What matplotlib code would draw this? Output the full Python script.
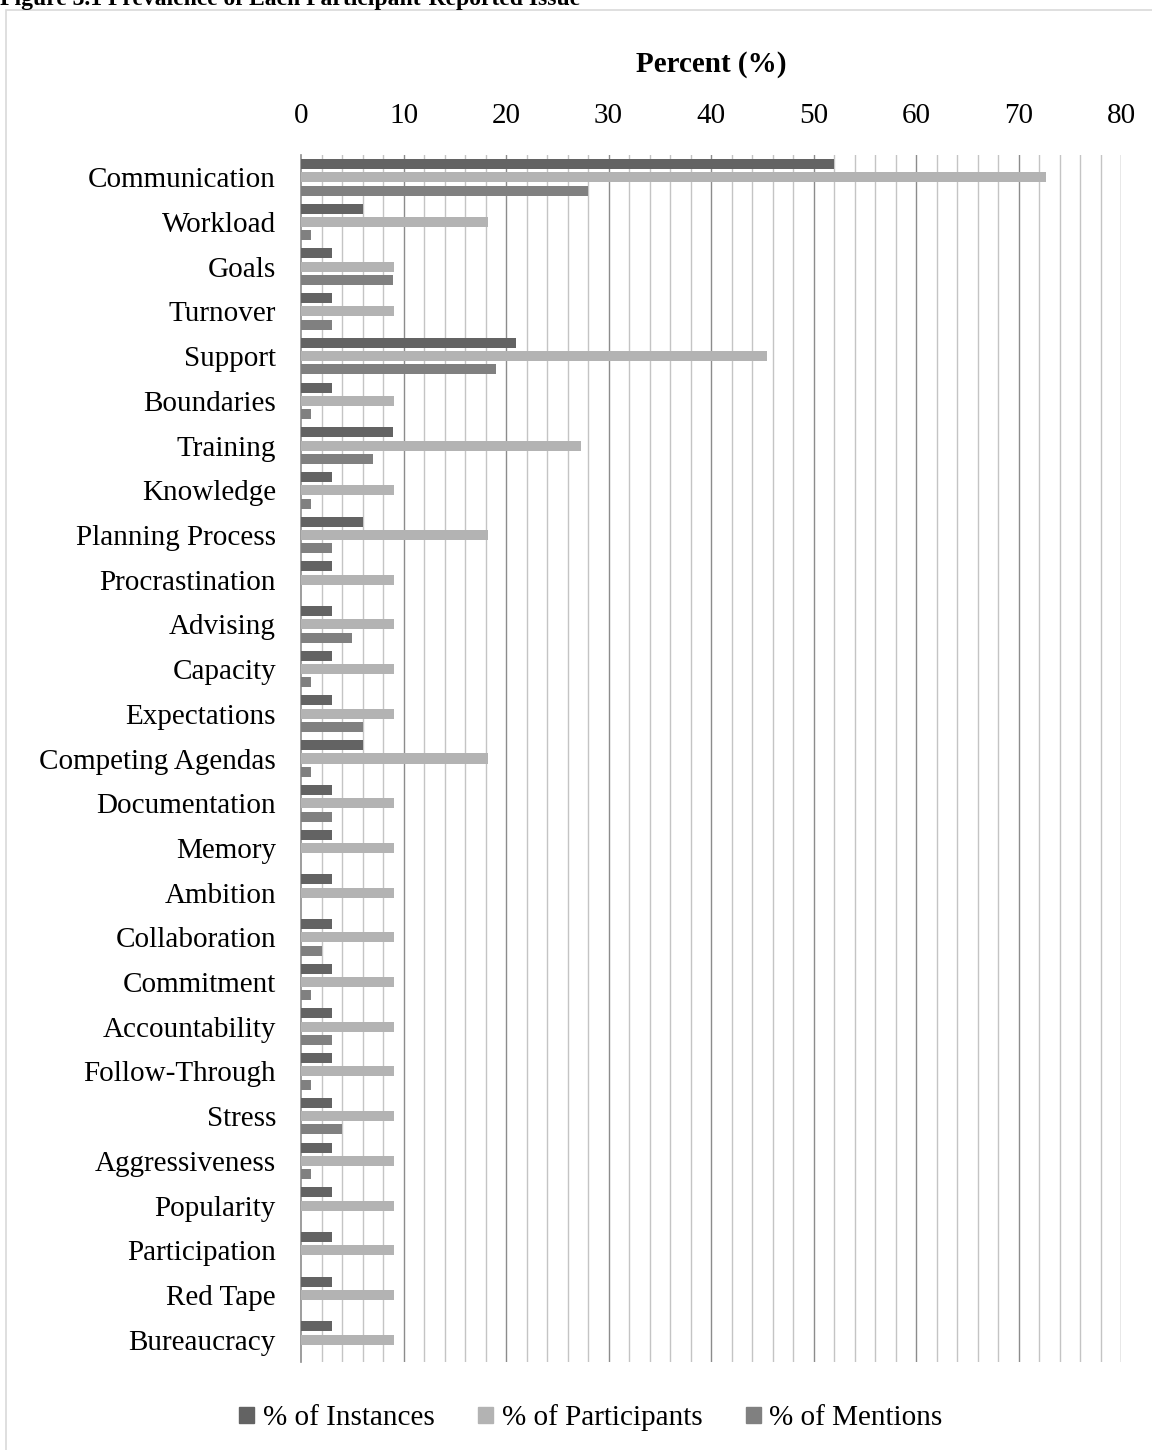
import matplotlib.pyplot as plt
import matplotlib.patches as patches
import numpy as np

plt.rcParams['font.family'] = ['Liberation Serif', 'DejaVu Serif']

# Data
issues = ['Communication', 'Workload', 'Goals', 'Turnover', 'Support', 'Boundaries',
          'Training', 'Knowledge', 'Planning Process', 'Procrastination', 'Advising',
          'Capacity', 'Expectations', 'Competing Agendas', 'Documentation', 'Memory',
          'Ambition', 'Collaboration', 'Commitment', 'Accountability', 'Follow-Through',
          'Stress', 'Aggressiveness', 'Popularity', 'Participation', 'Red Tape', 'Bureaucracy']
instances = [52, 6, 3, 3, 21, 3, 9, 3, 6, 3, 3, 3, 3, 6, 3, 3, 3, 3, 3, 3, 3, 3, 3, 3, 3, 3, 3]
participants = [72.7, 18.2, 9.1, 9.1, 45.5, 9.1, 27.3, 9.1, 18.2, 9.1, 9.1, 9.1, 9.1, 18.2,
                9.1, 9.1, 9.1, 9.1, 9.1, 9.1, 9.1, 9.1, 9.1, 9.1, 9.1, 9.1, 9.1]
mentions = [28, 1, 9, 3, 19, 1, 7, 1, 3, 0, 5, 1, 6, 1, 3, 0, 0, 2, 1, 3, 1, 4, 1, 0, 0, 0, 0]
series_names = ['% of Instances', '% of Participants', '% of Mentions']
colors = ['#636363', '#b3b3b3', '#808080']

W, H = 1152, 1450
fig = plt.figure(figsize=(W / 100, H / 100), dpi=100)

# chart border (light gray frame, partly off canvas)
fig.add_artist(patches.Rectangle((6 / W, -0.01), 1.0, 1 - 10 / H + 0.01, transform=fig.transFigure,
                                 fill=False, edgecolor='#d9d9d9', lw=1.2))

# figure caption, cut off at the top as in the source page
fig.text(0.0, 1 - 5 / H, 'Figure 3.1 Prevalence of Each Participant-Reported Issue',
         fontsize=17, fontweight='bold', ha='left', va='baseline')

left, right, top, bottom = 301, 1121, 155, 1362
ax = fig.add_axes([left / W, 1 - bottom / H, (right - left) / W, (bottom - top) / H])

y = np.arange(len(issues))
pitch = 0.298
bh = 0.224
for i, (vals, name, c) in enumerate(zip([instances, participants, mentions], series_names, colors)):
    ax.barh(y + (i - 1) * pitch, vals, height=bh, color=c, label=name, zorder=3)

ax.set_xlim(0, 80)
ax.set_ylim(len(issues) - 0.5, -0.5)

# gridlines: light every 2, darker every 10
for xv in np.arange(2, 81, 2):
    major = xv % 10 == 0
    ax.axvline(xv, color='#8c8c8c' if major else '#c4c4c4', lw=1.0, zorder=1)

ax.xaxis.tick_top()
ax.set_xticks(np.arange(0, 81, 10))
ax.tick_params(axis='x', length=0, pad=19, labelsize=21)
ax.set_yticks(y)
ax.set_yticklabels(issues)
ax.tick_params(axis='y', length=0, pad=18, labelsize=21)

for s in ['top', 'right', 'bottom']:
    ax.spines[s].set_visible(False)
ax.spines['left'].set_color('#8c8c8c')
ax.spines['left'].set_linewidth(1.2)

fig.text((left + right) / 2 / W, 1 - 72 / H, 'Percent (%)', fontsize=21, fontweight='bold',
         ha='center', va='baseline')

handles = [patches.Patch(color=c) for c in colors]
fig.legend(handles, series_names, loc='center', bbox_to_anchor=(591 / W, 1 - 1418 / H),
           ncol=3, frameon=False, fontsize=21, handlelength=0.5, handleheight=0.5,
           handletextpad=0.3, columnspacing=1.5)

plt.savefig('out.png', dpi=100)
